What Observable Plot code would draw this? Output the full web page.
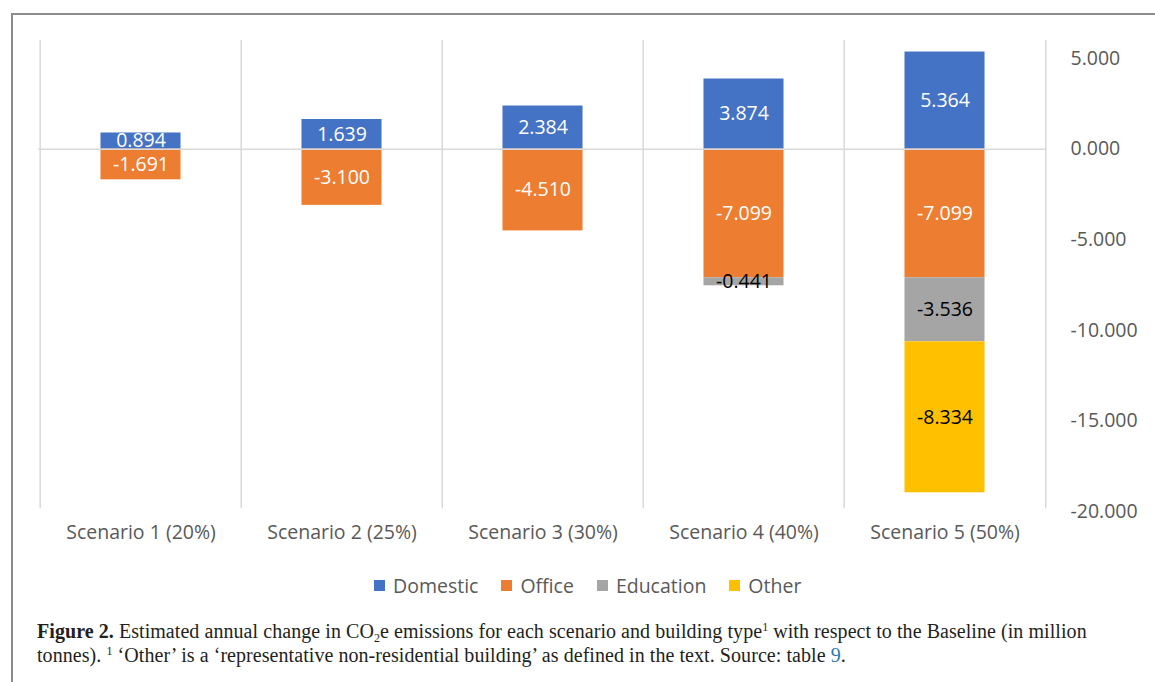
<!DOCTYPE html>
<html><head><meta charset="utf-8">
<script src="https://cdn.jsdelivr.net/npm/d3@7"></script>
<script src="https://cdn.jsdelivr.net/npm/@observablehq/plot@0.6"></script>
<style>
html,body{margin:0;padding:0;background:#fff;}
#fig{position:relative;width:1155px;height:682px;overflow:hidden;background:#fff;}
#border{position:absolute;left:11px;top:13px;width:1300px;height:800px;border-left:2px solid #8c8c8c;border-top:2px solid #8c8c8c;}
#chart{position:absolute;left:0;top:0;}
#legend{position:absolute;top:572px;left:374px;display:flex;align-items:center;font-family:"Open Sans",sans-serif;font-size:19.5px;color:#595959;white-space:nowrap;}
#legend .item{display:flex;align-items:center;margin-right:23px;}
#legend .sw{width:11px;height:11px;margin-right:8px;}
#caption{position:absolute;left:37px;top:621px;font-family:"Liberation Serif",serif;font-size:20px;letter-spacing:0.06px;line-height:21px;color:#231f20;white-space:nowrap;}
#caption .sb{font-size:12px;position:relative;top:4px;}
#caption .sp{font-size:12px;position:relative;top:-7px;}
</style></head>
<body>
<div id="fig">
  <div id="border"></div>
  <div id="chart"></div>
  <div id="legend"></div>
  <div id="caption"><b>Figure 2.</b> Estimated annual change in CO<span class="sb">2</span>e emissions for each scenario and building type<span class="sp">1</span> with respect to the Baseline (in million<br>tonnes). <span class="sp">1</span> ‘Other’ is a ‘representative non-residential building’ as defined in the text. Source: table <span style="color:#2a7ab0">9</span>.</div>
</div>
<script>
const scenarios = ["Scenario 1 (20%)", "Scenario 2 (25%)", "Scenario 3 (30%)", "Scenario 4 (40%)", "Scenario 5 (50%)"];
const seriesNames = ["Domestic", "Office", "Education", "Other"];
const seriesColors = ["#4472c4", "#ed7d31", "#a5a5a5", "#ffc000"];
const domestic = [0.894, 1.639, 2.384, 3.874, 5.364];
const office = [-1.691, -3.100, -4.510, -7.099, -7.099];
const education = [0, 0, 0, -0.441, -3.536];
const other = [0, 0, 0, 0, -8.334];
const yTicks = [5, 0, -5, -10, -15, -20];

const seriesValues = [domestic, office, education, other];
const rows = [];
seriesNames.forEach((s, si) => {
  scenarios.forEach((sc, i) => {
    const v = seriesValues[si][i];
    if (v !== 0) rows.push({scenario: sc, series: s, value: v});
  });
});
const lightText = new Set(["Domestic", "Office"]);
const fmt = v => v.toFixed(3);

const W = 1155, H = 560, mL = 38, mR = 109;
const band = (W - mL - mR) / scenarios.length;
const barW = band / 2.5;
const inset = (band - barW) / 2;

const chart = Plot.plot({
  width: W, height: H,
  marginLeft: mL, marginRight: mR, marginTop: 40, marginBottom: 49,
  style: {fontFamily: "'Open Sans', sans-serif", background: "transparent", overflow: "visible"},
  x: {type: "band", domain: scenarios, padding: 0},
  y: {domain: [-20, 6]},
  color: {domain: seriesNames, range: seriesColors},
  marks: [
    Plot.ruleX(scenarios, {x: d => d, dx: -band / 2, stroke: "#d9d9d9", strokeWidth: 1.5, y1: -19.85, y2: 6}),
    Plot.ruleX([scenarios[scenarios.length - 1]], {x: d => d, dx: band / 2, stroke: "#d9d9d9", strokeWidth: 1.5, y1: -19.85, y2: 6}),
    Plot.barY(rows, Plot.stackY({x: "scenario", y: "value", fill: "series", insetLeft: inset, insetRight: inset})),
    Plot.ruleY([0], {stroke: "#d9d9d9", strokeWidth: 1.5}),
    Plot.text(rows, Plot.stackY({x: "scenario", y: "value", z: "series",
      text: d => lightText.has(d.series) ? fmt(d.value) : "", fill: "white", fontSize: 19.5})),
    Plot.text(rows, Plot.stackY({x: "scenario", y: "value", z: "series",
      text: d => lightText.has(d.series) ? "" : fmt(d.value), fill: "black", fontSize: 19.5})),
    Plot.axisX({tickSize: 0, tickPadding: 14, fontSize: 19.5, color: "#595959", label: null}),
    Plot.axisY({anchor: "right", ticks: yTicks, tickFormat: fmt, tickSize: 0, tickPadding: 24, fontSize: 19.5, color: "#595959", label: null})
  ]
});
document.getElementById("chart").appendChild(chart);

const legend = document.getElementById("legend");
seriesNames.forEach((s, i) => {
  const item = document.createElement("div");
  item.className = "item";
  const sw = document.createElement("span");
  sw.className = "sw";
  sw.style.background = seriesColors[i];
  const t = document.createElement("span");
  t.textContent = s;
  item.appendChild(sw); item.appendChild(t);
  legend.appendChild(item);
});
</script>
</body></html>
